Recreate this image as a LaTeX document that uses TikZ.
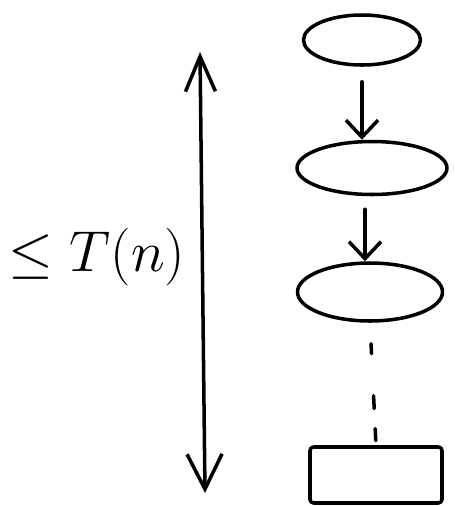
\documentclass[tikz,border=0pt]{standalone}
\usepackage{amsmath,amssymb}
\usepackage{tikz}
\usetikzlibrary{positioning,arrows.meta,shapes.geometric}

\begin{document}
\begin{tikzpicture}[
  line width=2pt, line cap=round, line join=round,
  blob/.style={draw, ellipse, inner sep=0pt},
  slab/.style={draw, rectangle, rounded corners=2pt, inner sep=0pt,
               minimum width=26.4mm, minimum height=11.2mm},
  arr/.style={-{Straight Barb[length=3.4mm, width=6.4mm]}},
  dbl/.style={{Straight Barb[length=7mm, width=6mm]}-{Straight Barb[length=7mm, width=7mm]}},
  gaps/.style={dash pattern=on 2mm off 8.4mm on 2.6mm off 4mm on 2.4mm off 10mm,
               shorten <=4.2mm}
]
\useasboundingbox (0,0) rectangle (9.08,-10.12);
% ----- chain of calls (top -> bottom) -----
\node[blob, minimum width=23.4mm, minimum height=10mm]   (c1) at (7.24,-0.80) {};
\node[blob, minimum width=30mm,   minimum height=10.6mm] (c2) at (7.44,-3.36) {};
\node[blob, minimum width=29mm,   minimum height=11.6mm] (c3) at (7.40,-5.84) {};
\node[slab]                                               (cb) at (7.52,-9.50) {};
\draw[arr, shorten <=3mm] (c1.south) -- (c1.south |- c2.north);
\draw[arr, shorten <=2.6mm] ([xshift=-1.4mm]c2.south) -- ([xshift=-1.4mm]c2.south |- c3.north);
\draw[gaps] (c3.south) -- (cb.north);
% ----- depth bound on the left -----
\coordinate (hi) at (4.00,-1.04);
\coordinate (lo) at (4.10,-9.86);
\draw[dbl] (hi) -- (lo);
\node[scale=1.32, transform shape] (bound) at (1.94,-5.14)
  {\fontsize{24.88}{26}\selectfont$\leq T(n)$};
\end{tikzpicture}
\end{document}
